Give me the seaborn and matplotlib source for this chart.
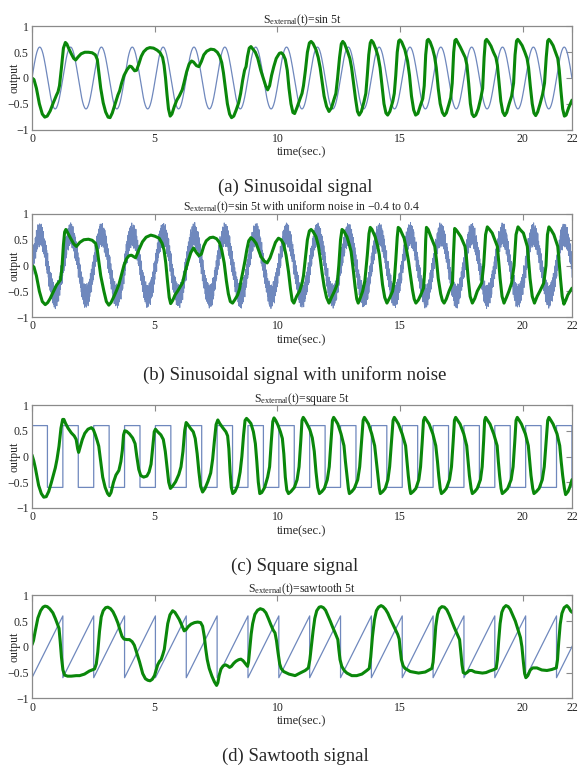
import numpy as np
import matplotlib
matplotlib.use("Agg")
import matplotlib.pyplot as plt
import seaborn as sns

# ---------------- data ----------------
input_period = 1.257          # seconds per cycle of the 5t input
samples_per_period = 64
n_periods = 18
noise_oversample = 3

# one period of the 0.6*sin input
sine_period_vals = [0.0, 0.059, 0.117, 0.174, 0.23, 0.283, 0.333, 0.38,
                    0.424, 0.464, 0.499, 0.529, 0.554, 0.574, 0.588, 0.597,
                    0.6, 0.597, 0.588, 0.574, 0.554, 0.529, 0.499, 0.464,
                    0.424, 0.38, 0.333, 0.283, 0.23, 0.174, 0.117, 0.059,
                    0.0, -0.059, -0.117, -0.174, -0.23, -0.283, -0.333, -0.38,
                    -0.424, -0.464, -0.499, -0.529, -0.554, -0.574, -0.588, -0.597,
                    -0.6, -0.597, -0.588, -0.574, -0.554, -0.529, -0.499, -0.464,
                    -0.424, -0.38, -0.333, -0.283, -0.23, -0.174, -0.117, -0.059]

# hand-estimated uniform-noise jitter of panel (b)
noise_vals = [0.12, -0.18, 0.05, 0.21, -0.09, -0.23, 0.16, 0.02, -0.14, 0.19,
              -0.04, 0.23, -0.20, 0.08, -0.11, 0.14, -0.22, 0.10, 0.00, -0.16,
              0.20, -0.07, 0.17, -0.24, 0.04, 0.13, -0.12, 0.22, -0.02, -0.19,
              0.09, 0.18, -0.08, -0.21, 0.15, 0.03, -0.15, 0.24, -0.05, 0.11,
              -0.17, 0.06, 0.19, -0.10, -0.23, 0.13, 0.01, -0.13, 0.21, -0.06,
              0.16, -0.20, 0.07, -0.01, 0.20, -0.18, 0.10, -0.09, 0.23, -0.14, 0.04]

# one period of the square input (high half, low half)
square_period_vals = [0.6] * 32 + [-0.6] * 32

# one period of the sawtooth input: start / end of the ramp
saw_period_frac = [0.0, 1.0]
saw_period_vals = [-0.6, 0.6]

# ---- output (green) curves, (time, output) pairs ----
green_a = [
    (0, 0.0), (0.08, -0.03), (0.18, -0.2), (0.3, -0.5), (0.42, -0.7), (0.52, -0.76), (0.62, -0.74),
    (0.74, -0.64), (0.86, -0.49), (1.0, -0.33), (1.06, -0.27), (1.12, -0.15), (1.2, 0.2), (1.28, 0.58),
    (1.36, 0.69), (1.42, 0.66), (1.5, 0.57), (1.6, 0.47), (1.7, 0.38), (1.78, 0.35), (1.88, 0.41),
    (2.0, 0.47), (2.15, 0.5), (2.3, 0.5), (2.45, 0.49), (2.58, 0.45), (2.66, 0.36), (2.72, 0.12),
    (2.8, -0.2), (2.9, -0.48), (3.0, -0.66), (3.1, -0.76), (3.18, -0.77), (3.27, -0.68), (3.37, -0.53),
    (3.5, -0.33), (3.57, -0.25), (3.65, -0.1), (3.75, 0.05), (3.87, 0.16), (3.98, 0.23), (4.05, 0.22),
    (4.18, 0.14), (4.26, 0.15), (4.35, 0.27), (4.45, 0.42), (4.55, 0.51), (4.68, 0.57), (4.8, 0.59),
    (4.95, 0.58), (5.1, 0.54), (5.22, 0.49), (5.32, 0.4), (5.38, 0.25), (5.44, 0.0), (5.5, -0.32),
    (5.56, -0.6), (5.63, -0.74), (5.7, -0.7), (5.8, -0.55), (5.9, -0.43), (6.0, -0.35), (6.12, -0.23),
    (6.2, -0.08), (6.3, 0.12), (6.4, 0.27), (6.5, 0.33), (6.58, 0.31), (6.7, 0.24), (6.8, 0.22),
    (6.9, 0.32), (7.0, 0.45), (7.12, 0.52), (7.28, 0.56), (7.42, 0.55), (7.55, 0.5), (7.65, 0.42),
    (7.73, 0.3), (7.8, 0.1), (7.88, -0.2), (7.96, -0.5), (8.05, -0.7), (8.13, -0.77), (8.22, -0.74),
    (8.32, -0.62), (8.42, -0.48), (8.5, -0.3), (8.58, -0.05), (8.66, 0.15), (8.72, 0.22), (8.78, 0.42),
    (8.85, 0.58), (8.92, 0.61), (9.0, 0.56), (9.1, 0.5), (9.2, 0.38), (9.32, 0.15), (9.42, 0.0),
    (9.52, -0.15), (9.6, -0.23), (9.68, -0.15), (9.76, 0.05), (9.85, 0.22), (9.95, 0.38), (10.08, 0.48),
    (10.16, 0.49), (10.24, 0.45), (10.32, 0.36), (10.4, 0.15), (10.47, -0.2), (10.55, -0.5),
    (10.63, -0.67), (10.7, -0.69), (10.8, -0.57), (10.9, -0.43), (11.0, -0.3), (11.06, -0.15),
    (11.14, 0.15), (11.22, 0.5), (11.3, 0.68), (11.37, 0.71), (11.45, 0.67), (11.57, 0.55), (11.66, 0.4),
    (11.74, 0.2), (11.82, -0.08), (11.9, -0.35), (12.0, -0.55), (12.1, -0.65), (12.2, -0.58),
    (12.3, -0.42), (12.38, -0.3), (12.45, 0.0), (12.53, 0.4), (12.6, 0.66), (12.66, 0.71), (12.73, 0.67),
    (12.86, 0.51), (12.95, 0.38), (13.02, 0.2), (13.1, -0.1), (13.18, -0.4), (13.26, -0.65),
    (13.33, -0.72), (13.42, -0.65), (13.52, -0.47), (13.6, -0.3), (13.66, 0.05), (13.72, 0.45),
    (13.78, 0.68), (13.83, 0.73), (13.9, 0.69), (14.01, 0.56), (14.1, 0.42), (14.18, 0.2), (14.26, -0.15),
    (14.34, -0.5), (14.42, -0.68), (14.49, -0.72), (14.58, -0.65), (14.7, -0.45), (14.76, -0.3),
    (14.82, 0.05), (14.88, 0.5), (14.94, 0.72), (14.99, 0.74), (15.06, 0.7), (15.19, 0.55), (15.3, 0.33),
    (15.38, 0.05), (15.46, -0.35), (15.55, -0.62), (15.63, -0.72), (15.72, -0.69), (15.82, -0.54),
    (15.92, -0.4), (15.98, -0.15), (16.04, 0.45), (16.1, 0.73), (16.15, 0.75), (16.22, 0.7),
    (16.32, 0.57), (16.4, 0.42), (16.47, 0.2), (16.55, -0.2), (16.63, -0.5), (16.72, -0.67),
    (16.8, -0.73), (16.88, -0.68), (16.98, -0.52), (17.06, -0.38), (17.12, -0.1), (17.18, 0.5),
    (17.23, 0.73), (17.28, 0.75), (17.35, 0.69), (17.45, 0.6), (17.55, 0.5), (17.65, 0.4), (17.72, 0.25),
    (17.79, -0.1), (17.86, -0.5), (17.93, -0.7), (18.0, -0.75), (18.08, -0.72), (18.18, -0.6),
    (18.28, -0.4), (18.36, -0.2), (18.42, 0.4), (18.47, 0.72), (18.52, 0.75), (18.6, 0.7), (18.7, 0.62),
    (18.8, 0.5), (18.9, 0.4), (18.96, 0.25), (19.03, -0.1), (19.1, -0.45), (19.18, -0.66), (19.26, -0.73),
    (19.34, -0.67), (19.44, -0.5), (19.54, -0.35), (19.62, -0.1), (19.68, 0.45), (19.74, 0.72),
    (19.79, 0.75), (19.86, 0.71), (19.97, 0.63), (20.08, 0.5), (20.17, 0.38), (20.23, 0.2), (20.3, -0.15),
    (20.38, -0.5), (20.45, -0.68), (20.52, -0.73), (20.6, -0.66), (20.7, -0.5), (20.8, -0.32),
    (20.88, -0.1), (20.95, 0.4), (21.01, 0.72), (21.06, 0.75), (21.13, 0.71), (21.23, 0.63), (21.33, 0.5),
    (21.42, 0.38), (21.48, 0.15), (21.55, -0.25), (21.62, -0.6), (21.69, -0.74), (21.76, -0.72),
    (21.87, -0.57), (22.0, -0.43)]

green_b = [
    (0, 0.0), (0.08, -0.03), (0.18, -0.2), (0.3, -0.5), (0.42, -0.7), (0.54, -0.76), (0.64, -0.72),
    (0.74, -0.64), (0.85, -0.53), (1.0, -0.38), (1.16, -0.28), (1.22, -0.05), (1.28, 0.4), (1.33, 0.65),
    (1.38, 0.7), (1.45, 0.64), (1.57, 0.53), (1.7, 0.42), (1.81, 0.37), (1.95, 0.45), (2.11, 0.5),
    (2.3, 0.51), (2.45, 0.49), (2.59, 0.43), (2.66, 0.3), (2.72, 0.08), (2.8, -0.2), (2.93, -0.5),
    (3.03, -0.7), (3.13, -0.77), (3.22, -0.72), (3.34, -0.6), (3.45, -0.48), (3.54, -0.37),
    (3.65, -0.17), (3.75, 0.01), (3.85, 0.13), (3.95, 0.19), (4.05, 0.2), (4.22, 0.15), (4.35, 0.3),
    (4.5, 0.46), (4.65, 0.55), (4.84, 0.59), (5.0, 0.57), (5.18, 0.53), (5.3, 0.43), (5.38, 0.3),
    (5.45, 0.05), (5.52, -0.3), (5.59, -0.62), (5.65, -0.74), (5.73, -0.68), (5.83, -0.57), (5.93, -0.5),
    (6.03, -0.42), (6.13, -0.34), (6.25, -0.1), (6.37, 0.1), (6.47, 0.25), (6.58, 0.34), (6.7, 0.25),
    (6.8, 0.19), (6.9, 0.22), (7.0, 0.38), (7.1, 0.48), (7.25, 0.54), (7.38, 0.55), (7.52, 0.52),
    (7.63, 0.45), (7.73, 0.3), (7.83, 0.05), (7.92, -0.3), (8.0, -0.55), (8.08, -0.7), (8.17, -0.73),
    (8.27, -0.66), (8.38, -0.57), (8.46, -0.45), (8.51, -0.31), (8.6, -0.1), (8.68, 0.1), (8.75, 0.3),
    (8.83, 0.48), (8.92, 0.54), (9.02, 0.5), (9.13, 0.43), (9.23, 0.3), (9.33, 0.17), (9.45, 0.09),
    (9.58, 0.05), (9.7, 0.15), (9.81, 0.3), (9.92, 0.45), (10.04, 0.53), (10.15, 0.5), (10.25, 0.42),
    (10.35, 0.2), (10.45, -0.12), (10.53, -0.45), (10.6, -0.68), (10.67, -0.73), (10.78, -0.6),
    (10.9, -0.5), (11.0, -0.35), (11.06, -0.2), (11.14, 0.15), (11.22, 0.5), (11.3, 0.67), (11.37, 0.7),
    (11.45, 0.66), (11.57, 0.56), (11.66, 0.4), (11.74, 0.15), (11.82, -0.15), (11.9, -0.4),
    (12.0, -0.62), (12.1, -0.73), (12.2, -0.62), (12.32, -0.5), (12.43, -0.37), (12.5, 0.0),
    (12.57, 0.5), (12.63, 0.7), (12.7, 0.67), (12.83, 0.56), (12.93, 0.4), (13.0, 0.27), (13.08, -0.05),
    (13.16, -0.4), (13.23, -0.65), (13.29, -0.73), (13.38, -0.62), (13.47, -0.5), (13.56, -0.3),
    (13.66, 0.2), (13.73, 0.62), (13.78, 0.74), (13.85, 0.7), (13.98, 0.56), (14.08, 0.38), (14.15, 0.21),
    (14.22, -0.1), (14.28, -0.37), (14.37, -0.62), (14.46, -0.73), (14.56, -0.64), (14.69, -0.5),
    (14.76, -0.3), (14.82, 0.1), (14.88, 0.55), (14.92, 0.74), (14.99, 0.71), (15.16, 0.53),
    (15.26, 0.3), (15.34, 0.08), (15.42, -0.2), (15.5, -0.47), (15.57, -0.65), (15.64, -0.73),
    (15.74, -0.67), (15.84, -0.57), (15.95, -0.44), (16.0, -0.1), (16.04, 0.5), (16.07, 0.74),
    (16.14, 0.7), (16.25, 0.56), (16.41, 0.37), (16.48, 0.1), (16.55, -0.25), (16.65, -0.55),
    (16.72, -0.68), (16.79, -0.73), (16.88, -0.65), (16.99, -0.5), (17.13, -0.34), (17.17, 0.2),
    (17.22, 0.72), (17.3, 0.68), (17.47, 0.56), (17.64, 0.37), (17.7, 0.15), (17.77, -0.25),
    (17.85, -0.6), (17.94, -0.73), (18.04, -0.64), (18.14, -0.5), (18.32, -0.34), (18.4, 0.0),
    (18.48, 0.6), (18.55, 0.75), (18.64, 0.7), (18.75, 0.63), (18.96, 0.37), (19.01, 0.1),
    (19.07, -0.25), (19.15, -0.6), (19.23, -0.73), (19.33, -0.62), (19.43, -0.5), (19.54, -0.34),
    (19.64, 0.0), (19.72, 0.6), (19.8, 0.75), (19.9, 0.69), (20.02, 0.63), (20.18, 0.37), (20.23, 0.1),
    (20.29, -0.25), (20.38, -0.6), (20.47, -0.73), (20.58, -0.6), (20.69, -0.5), (20.85, -0.34),
    (20.94, 0.0), (21.0, 0.6), (21.06, 0.75), (21.15, 0.69), (21.26, 0.6), (21.42, 0.37), (21.47, 0.1),
    (21.53, -0.25), (21.6, -0.6), (21.67, -0.75), (21.75, -0.67), (21.83, -0.57), (22.0, -0.44)]

green_c = [
    (0, 0.03), (0.07, -0.08), (0.14, -0.23), (0.27, -0.56), (0.38, -0.72), (0.48, -0.79), (0.58, -0.78),
    (0.68, -0.68), (0.78, -0.52), (0.89, -0.33), (0.95, -0.22), (1.02, -0.05), (1.1, 0.2), (1.18, 0.55),
    (1.25, 0.72), (1.3, 0.72), (1.37, 0.64), (1.47, 0.55), (1.6, 0.46), (1.72, 0.4), (1.8, 0.33),
    (1.86, 0.15), (1.9, 0.08), (1.96, 0.18), (2.05, 0.33), (2.15, 0.45), (2.28, 0.53), (2.42, 0.56),
    (2.5, 0.52), (2.58, 0.42), (2.66, 0.3), (2.72, 0.2), (2.8, -0.1), (2.88, -0.4), (2.98, -0.6),
    (3.08, -0.72), (3.15, -0.76), (3.22, -0.7), (3.32, -0.5), (3.42, -0.36), (3.54, -0.27), (3.62, -0.1),
    (3.68, 0.12), (3.73, 0.42), (3.78, 0.5), (3.85, 0.49), (3.97, 0.44), (4.1, 0.36), (4.2, 0.25),
    (4.27, 0.0), (4.35, -0.25), (4.43, -0.37), (4.55, -0.4), (4.68, -0.38), (4.77, -0.3), (4.85, -0.15),
    (4.92, 0.2), (4.98, 0.48), (5.03, 0.53), (5.12, 0.48), (5.25, 0.42), (5.35, 0.33), (5.43, 0.1),
    (5.5, -0.2), (5.57, -0.5), (5.64, -0.62), (5.72, -0.58), (5.85, -0.49), (5.98, -0.35), (6.07, -0.2),
    (6.15, 0.1), (6.22, 0.5), (6.28, 0.66), (6.35, 0.62), (6.45, 0.55), (6.57, 0.48), (6.65, 0.35),
    (6.73, 0.05), (6.8, -0.3), (6.87, -0.58), (6.95, -0.69), (7.05, -0.62), (7.17, -0.48), (7.28, -0.32),
    (7.36, -0.05), (7.43, 0.3), (7.5, 0.62), (7.57, 0.71), (7.65, 0.64), (7.77, 0.56), (7.9, 0.48),
    (7.97, 0.4), (8.02, 0.15), (8.07, -0.3), (8.12, -0.6), (8.18, -0.72), (8.27, -0.68), (8.38, -0.56),
    (8.48, -0.3), (8.55, 0.0), (8.62, 0.42), (8.68, 0.7), (8.74, 0.74), (8.82, 0.7), (8.92, 0.64),
    (9.02, 0.48), (9.1, 0.25), (9.16, -0.1), (9.22, -0.5), (9.28, -0.72), (9.36, -0.7), (9.48, -0.6),
    (9.6, -0.4), (9.68, -0.2), (9.75, 0.3), (9.81, 0.68), (9.86, 0.75), (9.93, 0.7), (10.02, 0.61),
    (10.12, 0.48), (10.2, 0.35), (10.26, 0.05), (10.32, -0.4), (10.38, -0.65), (10.45, -0.72),
    (10.55, -0.68), (10.69, -0.6), (10.8, -0.45), (10.88, -0.2), (10.95, 0.3), (11.0, 0.7), (11.05, 0.76),
    (11.12, 0.71), (11.22, 0.62), (11.32, 0.52), (11.42, 0.36), (11.5, 0.1), (11.57, -0.3), (11.64, -0.6),
    (11.71, -0.72),
    (11.81, -0.68), (11.91, -0.62), (12.03, -0.45), (12.11, -0.2), (12.18, 0.3), (12.24, 0.7),
    (12.29, 0.76), (12.36, 0.71), (12.46, 0.63), (12.59, 0.44), (12.71, 0.21), (12.77, -0.1),
    (12.83, -0.37), (12.89, -0.62), (12.93, -0.72),
    (13.03, -0.68), (13.13, -0.62), (13.27, -0.45), (13.35, -0.2), (13.43, 0.3), (13.49, 0.7),
    (13.54, 0.76), (13.61, 0.71), (13.71, 0.63), (13.84, 0.44), (13.96, 0.21), (14.03, -0.1),
    (14.09, -0.37), (14.15, -0.62), (14.19, -0.72),
    (14.29, -0.68), (14.39, -0.62), (14.5, -0.45), (14.57, -0.2), (14.65, 0.3), (14.71, 0.7),
    (14.76, 0.76), (14.83, 0.71), (14.93, 0.63), (15.08, 0.44), (15.22, 0.21), (15.28, -0.1),
    (15.33, -0.37), (15.39, -0.62), (15.43, -0.72),
    (15.53, -0.68), (15.64, -0.62), (15.76, -0.45), (15.83, -0.2), (15.9, 0.3), (15.95, 0.7),
    (16.0, 0.76), (16.07, 0.71), (16.18, 0.63), (16.33, 0.44), (16.45, 0.21), (16.52, -0.1),
    (16.57, -0.37), (16.63, -0.62), (16.68, -0.72),
    (16.78, -0.68), (16.88, -0.62), (17.01, -0.45), (17.09, -0.2), (17.16, 0.3), (17.21, 0.7),
    (17.26, 0.76), (17.33, 0.71), (17.44, 0.63), (17.59, 0.44), (17.71, 0.21), (17.77, -0.1),
    (17.82, -0.37), (17.89, -0.62), (17.94, -0.72),
    (18.04, -0.68), (18.14, -0.62), (18.27, -0.45), (18.34, -0.2), (18.4, 0.3), (18.44, 0.7),
    (18.48, 0.76), (18.55, 0.71), (18.66, 0.63), (18.81, 0.44), (18.95, 0.21), (19.0, -0.1),
    (19.05, -0.37), (19.11, -0.62), (19.16, -0.72),
    (19.26, -0.68), (19.38, -0.62), (19.52, -0.45), (19.6, -0.2), (19.67, 0.3), (19.72, 0.7),
    (19.77, 0.76), (19.84, 0.71), (19.94, 0.63), (20.1, 0.44), (20.22, 0.21), (20.28, -0.1),
    (20.33, -0.37), (20.4, -0.62), (20.45, -0.72),
    (20.55, -0.68), (20.66, -0.62), (20.79, -0.45), (20.87, -0.2), (20.95, 0.3), (21.01, 0.7),
    (21.06, 0.76), (21.13, 0.71), (21.23, 0.63), (21.39, 0.44), (21.5, 0.21), (21.56, -0.1),
    (21.62, -0.37), (21.69, -0.62), (21.74, -0.74),
    (21.84, -0.68), (21.92, -0.58), (22.0, -0.45)]

green_d = [
    (0, 0.04), (0.06, 0.12), (0.13, 0.3), (0.24, 0.56), (0.35, 0.7), (0.45, 0.77), (0.53, 0.79),
    (0.62, 0.78), (0.72, 0.74), (0.85, 0.66), (0.95, 0.55), (1.02, 0.46), (1.1, 0.36), (1.15, 0.1),
    (1.2, -0.2), (1.26, -0.45), (1.33, -0.55), (1.45, -0.57), (1.6, -0.57), (1.8, -0.56), (1.94, -0.56),
    (2.14, -0.53), (2.34, -0.47), (2.55, -0.43), (2.62, -0.33), (2.68, -0.1), (2.75, 0.3), (2.82, 0.58),
    (2.9, 0.7), (3.0, 0.76), (3.09, 0.77), (3.2, 0.74), (3.3, 0.68), (3.4, 0.58), (3.5, 0.46), (3.6, 0.3),
    (3.67, 0.2), (3.75, 0.15), (3.87, 0.14), (3.97, 0.14), (4.08, 0.1), (4.17, 0.03), (4.27, -0.12),
    (4.38, -0.29), (4.51, -0.52), (4.62, -0.62), (4.72, -0.65), (4.81, -0.66), (4.9, -0.63),
    (4.99, -0.56), (5.06, -0.45), (5.12, -0.35), (5.2, -0.28), (5.26, -0.25), (5.33, -0.15),
    (5.39, -0.05), (5.46, 0.2), (5.53, 0.45), (5.62, 0.62), (5.73, 0.7), (5.82, 0.67), (5.9, 0.61),
    (6.0, 0.53), (6.1, 0.42), (6.2, 0.31), (6.27, 0.33), (6.36, 0.39), (6.48, 0.44), (6.62, 0.47),
    (6.75, 0.48), (6.87, 0.47), (6.95, 0.4), (7.02, 0.2), (7.08, -0.05), (7.14, -0.25), (7.22, -0.42),
    (7.33, -0.57), (7.43, -0.68), (7.52, -0.75), (7.57, -0.7), (7.63, -0.55), (7.7, -0.43),
    (7.79, -0.37), (7.88, -0.35), (7.97, -0.37), (8.05, -0.4), (8.12, -0.38), (8.22, -0.32),
    (8.31, -0.28), (8.42, -0.25), (8.51, -0.24), (8.6, -0.27), (8.68, -0.32), (8.78, -0.38),
    (8.82, -0.3), (8.87, -0.05), (8.93, 0.25), (8.99, 0.45), (9.08, 0.63), (9.19, 0.71), (9.3, 0.74),
    (9.42, 0.72), (9.53, 0.66), (9.63, 0.55), (9.73, 0.43), (9.82, 0.33), (9.9, 0.27), (9.96, 0.12),
    (10.02, -0.1), (10.09, -0.33), (10.15, -0.42), (10.25, -0.48), (10.47, -0.53), (10.72, -0.56),
    (10.92, -0.51), (11.13, -0.46), (11.26, -0.41), (11.32, -0.25), (11.38, 0.0), (11.45, 0.3),
    (11.52, 0.55), (11.6, 0.7), (11.7, 0.77), (11.78, 0.78), (11.87, 0.76), (11.96, 0.71), (12.06, 0.6),
    (12.15, 0.5), (12.25, 0.38), (12.35, 0.27), (12.46, 0.14), (12.5, -0.05), (12.55, -0.25),
    (12.62, -0.38), (12.72, -0.46), (12.83, -0.51), (13.03, -0.56), (13.23, -0.56), (13.44, -0.53),
    (13.64, -0.46), (13.74, -0.42), (13.8, -0.2), (13.87, 0.2), (13.95, 0.52), (14.03, 0.7),
    (14.12, 0.77), (14.22, 0.8), (14.3, 0.78), (14.4, 0.73), (14.5, 0.65), (14.6, 0.54), (14.7, 0.44),
    (14.8, 0.34), (14.9, 0.24), (14.96, 0.15), (15.0, -0.05), (15.05, -0.25), (15.12, -0.37),
    (15.2, -0.42), (15.41, -0.48), (15.75, -0.51), (16.02, -0.49), (16.29, -0.42), (16.34, -0.3),
    (16.39, 0.0), (16.45, 0.4), (16.52, 0.63), (16.6, 0.74), (16.7, 0.78), (16.8, 0.77), (16.9, 0.72),
    (17.0, 0.62), (17.1, 0.5), (17.2, 0.38), (17.31, 0.26), (17.42, 0.14), (17.47, -0.1), (17.52, -0.35),
    (17.57, -0.5), (17.65, -0.52), (17.72, -0.5), (17.82, -0.46), (17.92, -0.46), (18.05, -0.49),
    (18.19, -0.5), (18.35, -0.51), (18.5, -0.5), (18.65, -0.47), (18.78, -0.45), (18.91, -0.42),
    (18.96, -0.25), (19.01, 0.1), (19.07, 0.45), (19.14, 0.67), (19.22, 0.76), (19.31, 0.8),
    (19.4, 0.78), (19.48, 0.73), (19.58, 0.62), (19.69, 0.5), (19.8, 0.33), (19.9, 0.18), (19.96, 0.0),
    (20.02, -0.3), (20.07, -0.52), (20.12, -0.6), (20.2, -0.56), (20.3, -0.45), (20.4, -0.41),
    (20.57, -0.41), (20.77, -0.45), (20.98, -0.46), (21.18, -0.44), (21.36, -0.41), (21.41, -0.25),
    (21.46, 0.1), (21.52, 0.44), (21.59, 0.65), (21.68, 0.76), (21.79, 0.8), (21.87, 0.76), (21.94, 0.7),
    (22.0, 0.67)]

titles = [r"$\mathrm{S_{external}}$(t)=sin 5t",
          r"$\mathrm{S_{external}}$(t)=sin 5t with uniform noise in $-$0.4 to 0.4",
          r"$\mathrm{S_{external}}$(t)=square 5t",
          r"$\mathrm{S_{external}}$(t)=sawtooth 5t"]
captions = ["(a) Sinusoidal signal",
            "(b) Sinusoidal signal with uniform noise",
            "(c) Square signal",
            "(d) Sawtooth signal"]
x_ticks = [0, 5, 10, 15, 20, 22]
y_ticks = [-1, -0.5, 0, 0.5, 1]
y_tick_labels = ["\u22121", "\u22120.5", "0", "0.5", "1"]

# ---------------- build input series ----------------
n = samples_per_period * n_periods
t_in = np.arange(n) * input_period / samples_per_period
keep = t_in <= 22.0
sine_in = np.tile(sine_period_vals, n_periods)
square_in = np.tile(square_period_vals, n_periods)

nn = n * noise_oversample
t_noisy = np.arange(nn) * input_period / (samples_per_period * noise_oversample)
noisy_in = np.repeat(sine_in, noise_oversample) + np.resize(noise_vals, nn)
keep_n = t_noisy <= 22.0

saw_t = np.concatenate([(k + np.array(saw_period_frac)) * input_period for k in range(n_periods)])
saw_v = np.tile(saw_period_vals, n_periods)
saw_keep = saw_t <= 22.7

# ---------------- style ----------------
sns.set_style("white")
plt.rcParams['font.family'] = ['Liberation Serif', 'DejaVu Serif']
plt.rcParams['mathtext.fontset'] = 'custom'
plt.rcParams['mathtext.rm'] = 'Liberation Serif'
plt.rcParams['mathtext.it'] = 'Liberation Serif:italic'

BLUE = "#6f88bd"
GREEN = "#0a870a"
SPINE = "#8a8a8a"

fig = plt.figure(figsize=(5.78, 7.69), dpi=100)
W, H = 578.0, 769.0
left, right = 32.0, 572.0
tops = [26.5, 214.0, 405.0, 595.3]
ax_h = 103.0

inputs = [
    (t_in[keep], sine_in[keep], None, 0.9),
    (t_noisy[keep_n], noisy_in[keep_n], None, 0.6),
    (t_in[keep], square_in[keep], "steps-post", 0.9),
    (saw_t[saw_keep], saw_v[saw_keep], None, 0.9),
]
greens = [green_a, green_b, green_c, green_d]

for i in range(4):
    top = tops[i]
    ax = fig.add_axes([left / W, 1 - (top + ax_h) / H, (right - left) / W, ax_h / H])
    tx, ty, ds, lw = inputs[i]
    kw = {"drawstyle": ds} if ds else {}
    sns.lineplot(x=tx, y=ty, ax=ax, color=BLUE, linewidth=lw,
                 estimator=None, sort=False, **kw)
    gx = [p[0] for p in greens[i]]
    gy = [p[1] for p in greens[i]]
    sns.lineplot(x=gx, y=gy, ax=ax, color=GREEN, linewidth=2.2,
                 estimator=None, sort=False, solid_joinstyle="round",
                 solid_capstyle="round")
    ax.set_xlim(0, 22)
    ax.set_ylim(-1, 1)
    ax.set_xticks(x_ticks)
    ax.set_xticklabels([str(v) for v in x_ticks])
    ax.set_yticks(y_ticks)
    ax.set_yticklabels(y_tick_labels)
    ax.tick_params(direction="in", top=True, right=True, length=4, width=0.8,
                   color=SPINE, labelsize=8.5, pad=2.5)
    for s in ax.spines.values():
        s.set_color(SPINE)
        s.set_linewidth(0.9)
    ax.set_xlabel("time(sec.)", fontsize=9, labelpad=1)
    ax.set_ylabel("output", fontsize=8.5)
    ax.yaxis.set_label_coords(-0.022, 0.5)
    ax.set_title(titles[i], fontsize=8.5, pad=2.5)
    fig.text(295 / W, 1 - (top + ax_h + 58) / H, captions[i],
             ha="center", va="center", fontsize=13.5)

fig.savefig("out.png", dpi=100, facecolor="white")
